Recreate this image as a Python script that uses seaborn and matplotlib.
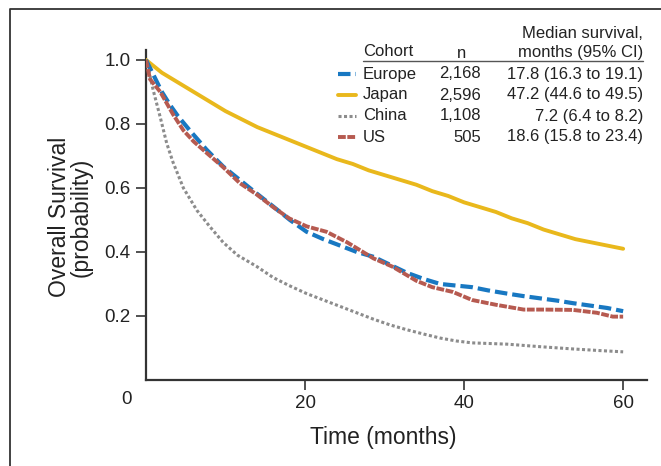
import numpy as np
import pandas as pd
import matplotlib
matplotlib.use("Agg")
import matplotlib.pyplot as plt
from matplotlib.lines import Line2D
import seaborn as sns

# survival curves (months, probability)
europe_t = [0, 1, 2, 3, 4, 5.5, 7.6, 9.7, 11.8, 13.9, 16, 18.1, 20.2, 22.3, 24.4, 26.5, 28.6, 30.7, 32.8, 35, 37, 39, 41, 43, 45.4, 47.5, 49.6, 51.7, 53.7, 56, 58, 60]
europe_s = [1.0, 0.95, 0.90, 0.86, 0.825, 0.78, 0.72, 0.667, 0.625, 0.583, 0.542, 0.50, 0.463, 0.44, 0.42, 0.40, 0.385, 0.36, 0.335, 0.315, 0.30, 0.295, 0.29, 0.28, 0.27, 0.262, 0.255, 0.248, 0.24, 0.232, 0.225, 0.215]

japan_t = [0, 1, 2, 4, 6, 8, 10, 12, 14, 16, 18, 20, 22, 24, 26, 28, 30, 32, 34, 36, 38, 40, 42, 44, 46, 48, 50, 52, 54, 56, 58, 60]
japan_s = [1.0, 0.98, 0.96, 0.93, 0.90, 0.87, 0.84, 0.815, 0.79, 0.77, 0.75, 0.73, 0.71, 0.69, 0.675, 0.655, 0.64, 0.625, 0.61, 0.59, 0.575, 0.555, 0.54, 0.525, 0.505, 0.49, 0.47, 0.455, 0.44, 0.43, 0.42, 0.41]

china_t = [0, 0.5, 0.9, 1.8, 2.6, 3.4, 4.7, 6.4, 8, 9.7, 11.5, 13.9, 16, 18, 20.2, 22.3, 24.4, 26.5, 28.6, 30.7, 32.8, 35, 37, 39, 41, 45.4, 49.6, 53.7, 57, 60]
china_s = [1.0, 0.95, 0.906, 0.82, 0.74, 0.68, 0.60, 0.53, 0.48, 0.43, 0.39, 0.355, 0.32, 0.295, 0.27, 0.25, 0.23, 0.21, 0.19, 0.172, 0.157, 0.143, 0.131, 0.122, 0.116, 0.112, 0.104, 0.097, 0.092, 0.088]

us_t = [0, 0.5, 1.8, 3.4, 4.7, 6, 7.6, 9.7, 11.8, 13.9, 16, 18, 20.2, 22.7, 25.3, 28.6, 31, 34, 36, 38.6, 41, 44, 47.5, 50, 53.7, 56.7, 58.7, 60]
us_s = [1.0, 0.94, 0.90, 0.83, 0.78, 0.745, 0.71, 0.665, 0.615, 0.58, 0.54, 0.505, 0.48, 0.463, 0.43, 0.38, 0.354, 0.31, 0.29, 0.275, 0.25, 0.235, 0.22, 0.22, 0.219, 0.21, 0.198, 0.198]

cohorts = ["Europe", "Japan", "China", "US"]
n_pat = ["2,168", "2,596", "1,108", "505"]
medians = ["17.8 (16.3 to 19.1)", "47.2 (44.6 to 49.5)", "7.2 (6.4 to 8.2)", "18.6 (15.8 to 23.4)"]

colors = {"Europe": "#1878c2", "Japan": "#e9b81c", "China": "#8c8c8c", "US": "#b65a50"}
styles = {"Europe": (0, (3, 1.2)), "Japan": "-", "China": (0, (1, 0.8)), "US": (0, (2, 0.4))}
widths = {"Europe": 3.0, "Japan": 2.8, "China": 2.2, "US": 2.8}

curves = {
    "Europe": (europe_t, europe_s),
    "Japan": (japan_t, japan_s),
    "China": (china_t, china_s),
    "US": (us_t, us_s),
}

sns.set_style("ticks")
plt.rcParams["font.family"] = ["Liberation Sans", "DejaVu Sans"]

W, H = 661, 466
fig = plt.figure(figsize=(W / 100, H / 100), dpi=100)
ax = fig.add_axes([146 / W, 1 - 380 / H, (647 - 146) / W, (380 - 50) / H])

for name in ["China", "Japan", "Europe", "US"]:
    t, s = curves[name]
    df = pd.DataFrame({"t": t, "s": s})
    sns.lineplot(data=df, x="t", y="s", ax=ax, color=colors[name],
                 linestyle=styles[name], linewidth=widths[name], zorder=3 if name != "US" else 4)

ax.set_xlim(0, 63.0)
ax.set_ylim(0, 1.031)
ax.set_xticks([20, 40, 60])
ax.set_yticks([0.2, 0.4, 0.6, 0.8, 1.0])
ax.set_yticklabels(["0.2", "0.4", "0.6", "0.8", "1.0"])
ax.tick_params(labelsize=13.5, length=7, width=1.2, color="#333333", labelcolor="#222222", pad=4)
for sp in ["top", "right"]:
    ax.spines[sp].set_visible(False)
for sp in ["left", "bottom"]:
    ax.spines[sp].set_linewidth(1.6)
    ax.spines[sp].set_color("#333333")
ax.set_xlabel("Time (months)", fontsize=16.5, color="#222222")
ax.xaxis.set_label_coords((383 - 146) / 501, -46 / 330)
ax.set_ylabel("Overall Survival\n(probability)", fontsize=16.5, color="#222222", linespacing=0.95)
ax.yaxis.set_label_coords(-(146 - 93) / 501, (380 - 217) / 330)

def fx(px):
    return px / W

def fy(py):
    return 1 - py / H

# shared origin label
fig.text(fx(127), fy(400), "0", fontsize=13.5, color="#222222", ha="center", va="center")

# outer frame
fig.add_artist(Line2D([fx(10), fx(10), 1.0], [0.0, fy(9), fy(9)], color="#333333", lw=1.3,
                      transform=fig.transFigure))

# legend table
fs = 12
tc = "#222222"
fig.text(fx(643), fy(33), "Median survival,", fontsize=fs, color=tc, ha="right", va="center")
fig.text(fx(643), fy(52), "months (95% CI)", fontsize=fs, color=tc, ha="right", va="center")
fig.text(fx(363), fy(52), "Cohort", fontsize=fs, color=tc, ha="left", va="center")
fig.text(fx(462), fy(53), "n", fontsize=fs, color=tc, ha="center", va="center")
fig.add_artist(Line2D([fx(363), fx(643)], [fy(61), fy(61)], color="#555555", lw=1.0,
                      transform=fig.transFigure))
rows_y = [74, 95, 116, 137]
for name, n, med, ry in zip(cohorts, n_pat, medians, rows_y):
    fig.add_artist(Line2D([fx(338), fx(356)], [fy(ry), fy(ry)], color=colors[name],
                          linestyle=styles[name], lw=widths[name], transform=fig.transFigure))
    fig.text(fx(363), fy(ry), name, fontsize=fs, color=tc, ha="left", va="center")
    fig.text(fx(481), fy(ry), n, fontsize=fs, color=tc, ha="right", va="center")
    fig.text(fx(643), fy(ry), med, fontsize=fs, color=tc, ha="right", va="center")

fig.savefig("out.png", dpi=100)
